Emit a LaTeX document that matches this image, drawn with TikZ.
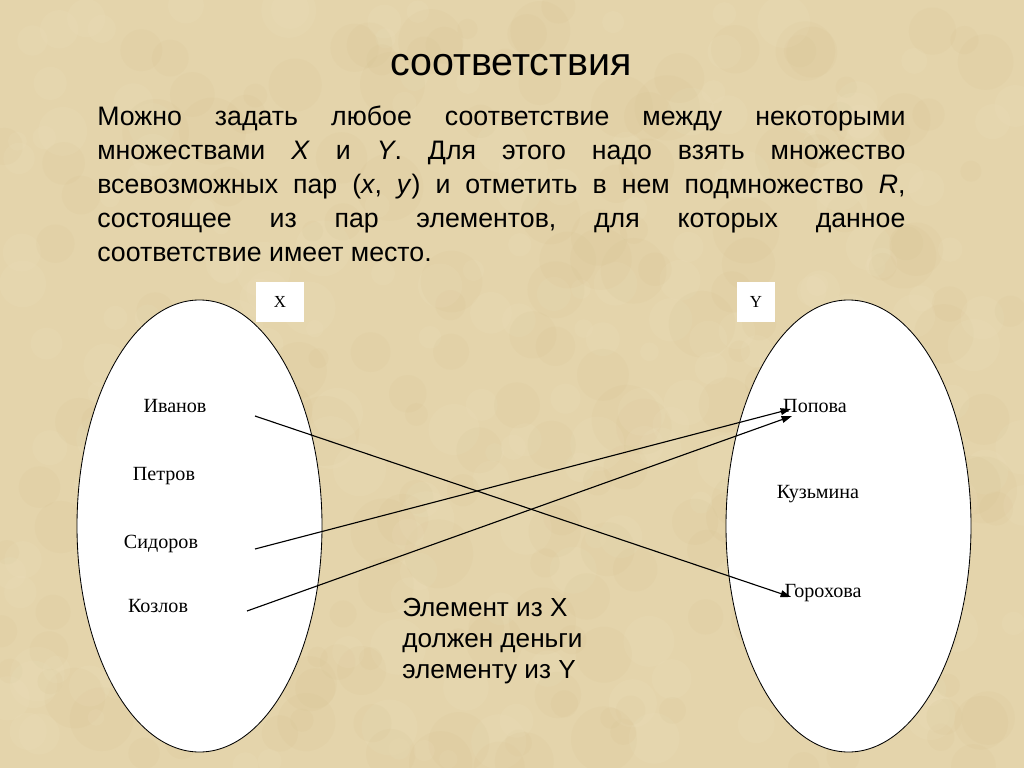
\documentclass[tikz,border=0pt]{standalone}
\usepackage{fontspec}
\setmainfont{Liberation Serif}
\newfontfamily\arialfont{Liberation Sans}
\usetikzlibrary{arrows.meta,positioning}
\definecolor{parchment}{RGB}{228,212,171}
\definecolor{parchmentdark}{RGB}{212,192,142}
\definecolor{parchmentlight}{RGB}{238,226,192}
\frenchspacing

\begin{document}
\begin{tikzpicture}[x=0.025cm, y=-0.025cm, every node/.style={inner sep=0pt},
  nameset/.style={font=\fontsize{14.3}{16}\selectfont},
  setlabel/.style={fill=white, minimum width=#1, minimum height=1cm, font=\fontsize{12}{14}\selectfont},
  link/.style={-{Triangle[length=2.6mm, width=1.7mm]}, line width=0.8pt}]
\useasboundingbox (0,0) rectangle (1024,768);
% background
\begin{scope}
\clip (0,0) rectangle (1024,768);
\fill[parchment] (0,0) rectangle (1024,768);
\pgfmathsetseed{7}
\foreach \i in {1,...,220}{
  \fill[parchmentdark, opacity=0.12] (rnd*1024,rnd*768) circle [radius=10+rnd*25];
  \fill[parchmentlight, opacity=0.15] (rnd*1024,rnd*768) circle [radius=8+rnd*20];
}
\end{scope}
% title and text
\node[font=\arialfont\fontsize{28}{32}\selectfont] (title) at (511,65) {соответствия};
\node[anchor=north west, text width=20.2cm, align=justify, font=\arialfont\fontsize{19}{24.1}\selectfont] (intro) at (97,106)
  {Можно задать любое соответствие между некоторыми множествами \textit{X} и \textit{Y}. Для этого надо взять множество всевозможных пар (\textit{x}, \textit{y}) и отметить в нем подмножество \textit{R},\linebreak состоящее из пар элементов, для которых данное\linebreak соответствие имеет место.};
% sets
\draw[fill=white, line width=0.6pt] (199.5,526) ellipse [x radius=122.5, y radius=226];
\draw[fill=white, line width=0.6pt] (848.5,526) ellipse [x radius=122.5, y radius=226];
\node[setlabel=1.2cm] (xlab) at (280,302) {X};
\node[setlabel=0.95cm] (ylab) at (756,302) {Y};
% elements
\node[nameset] (ivanov) at (175,406) {Иванов};
\node[nameset] (petrov) at (164,476) {Петров};
\node[nameset] (sidorov) at (161,544) {Сидоров};
\node[nameset] (kozlov) at (158,606) {Козлов};
\node[nameset] (popova) at (815,406) {Попова};
\node[nameset] (kuzmina) at (818,494) {Кузьмина};
\node[nameset] (gorokhova) at (823,593) {Горохова};
% connector ends
\coordinate (ivanov-out) at (255,416);
\coordinate (sidorov-out) at (255,549);
\coordinate (kozlov-out) at (247,611);
\coordinate (popova-in1) at (791,409);
\coordinate (popova-in2) at (792,416);
\coordinate (gorokhova-in) at (791,597);
\draw[link] (ivanov-out) -- (gorokhova-in);
\draw[link] (sidorov-out) -- (popova-in1);
\draw[link] (kozlov-out) -- (popova-in2);
% note
\node[anchor=north west, align=left, font=\arialfont\fontsize{18.6}{22}\selectfont] (note) at (402,598)
  {Элемент из X\\должен деньги\\элементу из Y};
\end{tikzpicture}
\end{document}
